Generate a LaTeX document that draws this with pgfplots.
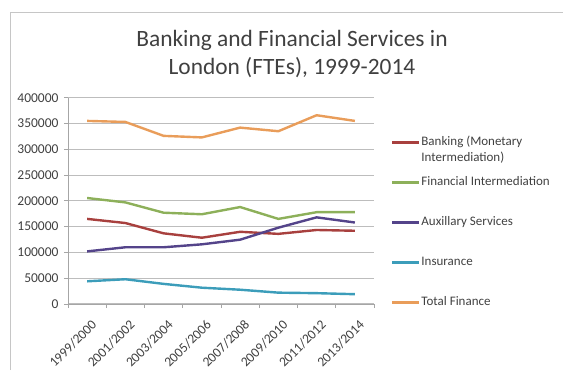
\documentclass[border=0pt]{standalone}
\usepackage{pgfplots}
\pgfplotsset{compat=1.18}
\usepackage{fontspec}
\setmainfont{Carlito}
\definecolor{cBank}{HTML}{A8403E}
\definecolor{cFin}{HTML}{8DB05A}
\definecolor{cAux}{HTML}{54448A}
\definecolor{cIns}{HTML}{3C9DBA}
\definecolor{cTot}{HTML}{E99D5A}
\definecolor{cTxt}{HTML}{404040}
\definecolor{cGrid}{HTML}{BDBDBD}
\begin{document}
\begin{tikzpicture}[x=1pt,y=1pt]
\useasboundingbox (0,0) rectangle (563,370);
\draw[gray!45, line width=1pt] (10,0) -- (10,357) -- (563,357);
\node[text=cTxt, font=\fontsize{23.4}{28}\selectfont, align=center, anchor=base] at (292,295) {Banking and Financial Services in\\London (FTEs), 1999-2014};
\begin{axis}[
  at={(68pt,66pt)}, anchor=south west,
  scale only axis, width=306pt, height=206.3pt,
  xmin=-0.5, xmax=7.5, ymin=0, ymax=400000,
  axis x line=bottom, axis y line=left,
  axis line style={-, draw=gray!70, line width=0.8pt},
  xtick={0,...,7},
  xticklabels={1999/2000,2001/2002,2003/2004,2005/2006,2007/2008,2009/2010,2011/2012,2013/2014},
  major x tick style={draw=none},
  minor xtick={-0.5,0.5,...,7.5},
  minor x tick style={draw=gray!70, line width=0.8pt},
  minor tick length=4pt,
  ytick={0,50000,...,400000},
  major tick length=4pt,
  tick align=outside,
  y tick style={draw=gray!70, line width=0.8pt},
  ymajorgrids, grid style={cGrid, line width=1pt},
  scaled y ticks=false,
  /pgf/number format/fixed,
  /pgf/number format/precision=0,
  /pgf/number format/1000 sep={},
  /pgf/number format/assume math mode=true,
  ticklabel style={text=cTxt, font=\fontsize{13.5}{15}\selectfont},
  xticklabel style={font=\fontsize{13.5}{15}\selectfont, rotate=45, anchor=north east, xshift=-4pt, yshift=-9pt, inner sep=1pt},
  yticklabel style={xshift=-2pt},
  every axis plot/.append style={line width=2.4pt, mark=none},
  legend style={draw=none, fill=none, at={(1.055,0.813)}, anchor=north west,
    inner sep=0pt, row sep=27pt,
    nodes={text=cTxt, font=\fontsize{13}{15.5}\selectfont, inner sep=1pt, text height=8.5pt, text depth=2.5pt, anchor=base west}},
  legend cell align=left,
  legend image code/.code={\draw[#1, line width=2.4pt] (0pt,3.5pt) -- (27pt,3.5pt);},
]
\addplot[cBank] coordinates {(0,165000)(1,157000)(2,137000)(3,128500)(4,140000)(5,136000)(6,143500)(7,142000)};
\addlegendentry{\vtop{\hbox{Banking (Monetary}\hbox{Intermediation)}}}
\addplot[cFin] coordinates {(0,205500)(1,197000)(2,177000)(3,174000)(4,188000)(5,165000)(6,178000)(7,178000)};
\addlegendentry{Financial Intermediation}
\addplot[cAux] coordinates {(0,102000)(1,110000)(2,110000)(3,115700)(4,124700)(5,148000)(6,168000)(7,158000)};
\addlegendentry{Auxillary Services}
\addplot[cIns] coordinates {(0,44000)(1,48000)(2,39000)(3,31600)(4,27700)(5,22000)(6,21000)(7,19000)};
\addlegendentry{Insurance}
\addplot[cTot] coordinates {(0,355000)(1,353000)(2,326000)(3,323000)(4,342000)(5,335000)(6,366000)(7,355000)};
\addlegendentry{Total Finance}
\end{axis}
\end{tikzpicture}
\end{document}
